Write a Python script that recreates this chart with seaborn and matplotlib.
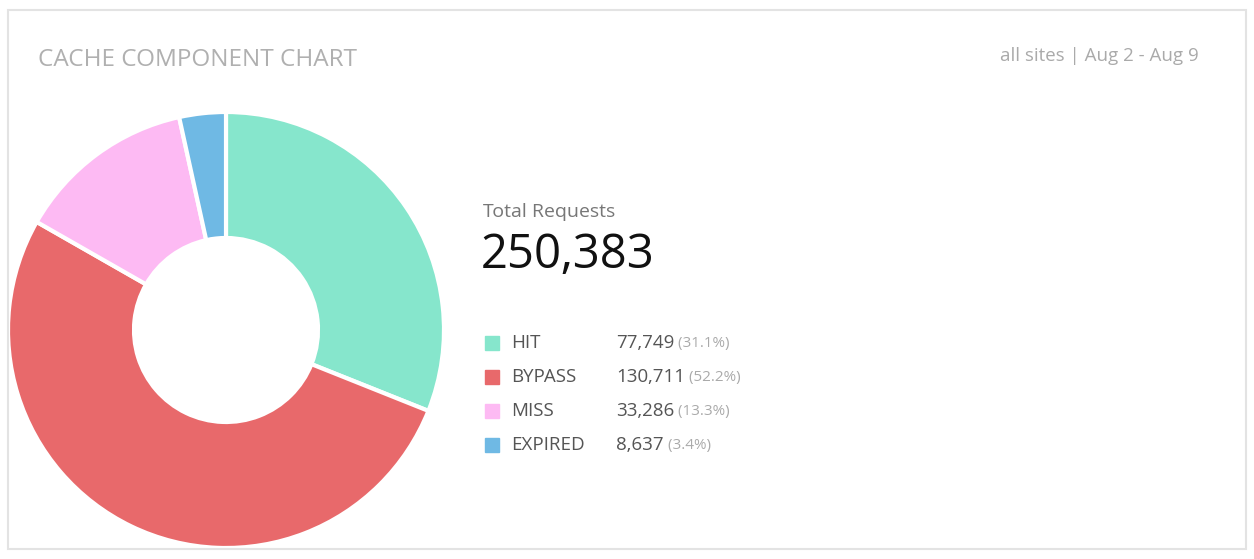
import matplotlib
matplotlib.use("Agg")
import matplotlib.pyplot as plt
import matplotlib.patches as mpatches
import seaborn as sns

categories = ["HIT", "BYPASS", "MISS", "EXPIRED"]
values = [77749, 130711, 33286, 8637]
pcts = ["31.1%", "52.2%", "13.3%", "3.4%"]
colors = ["#86e6cc", "#e8696b", "#fdbaf3", "#6fb9e4"]
total = sum(values)

sns.set_theme(style="white", font="Open Sans")
W, H = 1254, 559
fig = plt.figure(figsize=(W / 100, H / 100), dpi=100)

# card border
fig.patches.append(mpatches.Rectangle((8 / W, 10 / H), 1238 / W, 539 / H, transform=fig.transFigure,
                                      fill=False, edgecolor="#e3e3e3", lw=1.5))

cx, cy, r = 226, 330, 218
ax = fig.add_axes([(cx - r) / W, (H - cy - r) / H, 2 * r / W, 2 * r / H])
ax.pie(values, colors=colors, startangle=90, counterclock=False, radius=1,
       wedgeprops=dict(width=1 - 92 / 218, edgecolor="white", linewidth=3))
ax.set_xlim(-1, 1)
ax.set_ylim(-1, 1)
ax.axis("off")

def fy(y):
    return 1 - y / H

fig.text(38 / W, fy(60), "CACHE COMPONENT CHART", fontsize=17.5, color="#b0b0b0", va="center")
fig.text(1199 / W, fy(56), "all sites | Aug 2 - Aug 9", fontsize=13.5, color="#aaaaaa", va="center", ha="right")
fig.text(483 / W, fy(212), "Total Requests", fontsize=14, color="#777777", va="center")
fig.text(481 / W, fy(255), f"{total:,}", fontsize=34, color="#111111", va="center")

for i, (cat, v, p, c) in enumerate(zip(categories, values, pcts, colors)):
    y = 343 + 34 * i
    fig.patches.append(mpatches.Rectangle((485 / W, fy(y + 7)), 14 / W, 14 / H,
                                          transform=fig.transFigure, color=c))
    fig.text(511 / W, fy(y), cat, fontsize=13.5, color="#555555", va="center")
    t = fig.text(616 / W, fy(y), f"{v:,}", fontsize=13.5, color="#555555", va="center")
    fig.text(0, 0, "", fontsize=1)
    ax.annotate(f" ({p})", xy=(1, 0.5), xycoords=t, va="center", ha="left",
                fontsize=11, color="#aaaaaa", annotation_clip=False)

fig.savefig("out.png", dpi=100, facecolor="white")
